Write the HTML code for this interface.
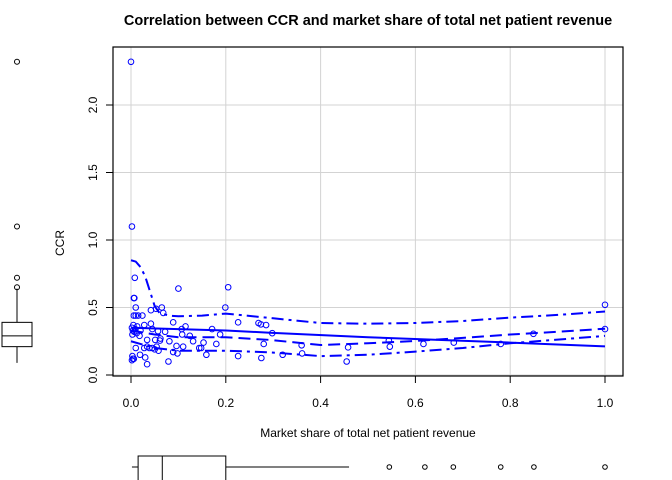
<!DOCTYPE html>
<html><head><meta charset="utf-8"><style>
body{margin:0;background:#fff}
svg{display:block;font-family:"Liberation Sans",Arial,sans-serif}
</style></head><body>
<svg id="chart" width="672" height="480" viewBox="0 0 672 480">
<text x="368" y="25" text-anchor="middle" font-size="14.5" font-weight="bold">Correlation between CCR and market share of total net patient revenue</text>
<g id="grid"></g>
<g id="marks"></g>
<rect x="113" y="47" width="510" height="329" fill="none" stroke="#000" stroke-width="1.2"/>
<g id="axes"></g>
<text x="368" y="437" text-anchor="middle" font-size="12">Market share of total net patient revenue</text>
<text transform="translate(64,243) rotate(-90)" text-anchor="middle" font-size="12">CCR</text>
<g id="boxes"></g>
</svg>
<script>
const xTicks=[0,0.2,0.4,0.6,0.8,1.0];
const xTickLabels=["0.0","0.2","0.4","0.6","0.8","1.0"];
const yTicks=[0,0.5,1.0,1.5,2.0];
const yTickLabels=["0.0","0.5","1.0","1.5","2.0"];
const pointsX=[0,0.002,0.008,0.006,0.007,0.01,0.006,0.01,0.015,0.024,0.1,0.205,0.199,0.042,0.053,0.065,0.068,0.089,0.115,0.107,0.108,0.124,0.171,0.188,0.226,0.269,0.274,0.285,0.298,0.28,0.275,0.226,0.18,0.159,0.153,0.148,0.144,0.131,0.11,0.098,0.089,0.096,0.079,0.081,0.072,0.061,0.051,0.057,0.034,0.028,0.042,0.034,0.039,0.045,0.05,0.054,0.058,0.028,0.03,0.034,0.019,0.01,0.003,0.006,0.002,0.004,0.003,0.007,0.012,0.018,0.002,0.005,0.009,0.004,0.013,0.36,0.32,0.361,0.455,0.458,0.544,0.546,0.617,0.681,0.78,0.849,1.0,1.0,0.02,0.045,0.062];
const pointsY=[2.32,1.10,0.72,0.57,0.57,0.50,0.44,0.44,0.44,0.44,0.64,0.65,0.50,0.48,0.49,0.50,0.46,0.39,0.36,0.34,0.30,0.29,0.34,0.30,0.39,0.385,0.375,0.37,0.31,0.23,0.126,0.14,0.23,0.15,0.24,0.20,0.20,0.25,0.21,0.16,0.17,0.215,0.10,0.25,0.32,0.255,0.26,0.325,0.26,0.37,0.38,0.21,0.20,0.20,0.19,0.21,0.18,0.20,0.13,0.08,0.15,0.20,0.14,0.12,0.11,0.12,0.30,0.32,0.31,0.29,0.35,0.37,0.34,0.33,0.36,0.22,0.15,0.16,0.10,0.205,0.255,0.21,0.23,0.24,0.23,0.305,0.52,0.34,0.33,0.34,0.27];
const fitX=[0,0.2,0.293,0.5,0.8,1.0];
const fitY=[0.35,0.33,0.313,0.28,0.24,0.212];
const upperX=[0,0.01,0.02,0.03,0.04,0.05,0.06,0.08,0.1,0.15,0.2,0.3,0.4,0.5,0.6,0.7,0.8,0.9,1.0];
const upperY=[0.85,0.84,0.80,0.73,0.62,0.51,0.46,0.44,0.435,0.44,0.455,0.42,0.385,0.38,0.385,0.40,0.425,0.445,0.47];
const midX=[0,0.05,0.1,0.2,0.293,0.4,0.5,0.6,0.7,0.8,0.9,1.0];
const midY=[0.33,0.30,0.28,0.28,0.26,0.222,0.235,0.252,0.275,0.30,0.32,0.343];
const lowerX=[0,0.05,0.1,0.2,0.293,0.4,0.5,0.6,0.7,0.8,0.9,1.0];
const lowerY=[0.25,0.20,0.18,0.18,0.168,0.14,0.15,0.173,0.20,0.235,0.262,0.29];
const boxY={lowWhisk:0.09,q1:0.21,med:0.29,q3:0.39,highWhisk:0.64};
const boxYOut=[0.65,0.72,1.10,2.32];
const boxX={lowWhisk:0.002,q1:0.015,med:0.066,q3:0.20,highWhisk:0.46};
const boxXOut=[0.545,0.62,0.68,0.78,0.85,1.0];

const xs=v=>131+474*v, ys=v=>375-135*v;
const NS="http://www.w3.org/2000/svg";
function mk(parent,tag,attrs){const e=document.createElementNS(NS,tag);for(const k in attrs)e.setAttribute(k,attrs[k]);parent.appendChild(e);return e;}
const grid=document.getElementById('grid'),marks=document.getElementById('marks'),axes=document.getElementById('axes'),boxes=document.getElementById('boxes');
xTicks.forEach((t,i)=>{
  let g=mk(grid,'line',{x1:xs(t),x2:xs(t),y1:47,y2:376,stroke:'#d3d3d3','stroke-width':1});
  
  
  let tk=mk(axes,'line',{x1:xs(t),x2:xs(t),y1:376,y2:383,stroke:'#000'});
  
  
  let tl=mk(axes,'text',{x:xs(t),y:407,'text-anchor':'middle','font-size':12});
  tl.textContent=xTickLabels[i];
  
  
});
yTicks.forEach((t,i)=>{
  let g=mk(grid,'line',{x1:113,x2:623,y1:ys(t),y2:ys(t),stroke:'#d3d3d3','stroke-width':1});
  
  
  let tk=mk(axes,'line',{x1:106,x2:113,y1:ys(t),y2:ys(t),stroke:'#000'});
  
  
  let tl=mk(axes,'text',{transform:`translate(97,${ys(t)}) rotate(-90)`,'text-anchor':'middle','font-size':12});
  tl.textContent=yTickLabels[i];
  
  
});
pointsX.forEach((x,i)=>{
  let c=mk(marks,'circle',{cx:xs(x),cy:ys(pointsY[i]),r:2.8,fill:'none',stroke:'#0000ff','stroke-width':1});
  
  
});
function line(X,Y,dash,name){
  let p=mk(marks,'polyline',{points:X.map((x,i)=>xs(x)+','+ys(Y[i])).join(' '),fill:'none',stroke:'#0000ff','stroke-width':2,'stroke-dasharray':dash});
  
  
}
line(fitX,fitY,'none','regression-line');
line(upperX,upperY,'12,5,3,5','upper-band');
line(midX,midY,'12,6','smoother-line');
line(lowerX,lowerY,'12,5,3,5','lower-band');
const bx=17;
[[bx,ys(boxY.lowWhisk),bx,ys(boxY.q1)],[bx,ys(boxY.q3),bx,ys(boxY.highWhisk)],[2,ys(boxY.med),32,ys(boxY.med)]].forEach(a=>{
  let l=mk(boxes,'line',{x1:a[0],y1:a[1],x2:a[2],y2:a[3],stroke:'#000'});
  
  
});
let r1=mk(boxes,'rect',{x:2,y:ys(boxY.q3),width:30,height:ys(boxY.q1)-ys(boxY.q3),fill:'none',stroke:'#000'});


boxYOut.forEach(v=>{
  let c=mk(boxes,'circle',{cx:bx,cy:ys(v),r:2.5,fill:'none',stroke:'#000'});
  
  
});
const by=467;
[[xs(boxX.lowWhisk),by,xs(boxX.q1),by],[xs(boxX.q3),by,xs(boxX.highWhisk),by],[xs(boxX.med),456,xs(boxX.med),480]].forEach(a=>{
  let l=mk(boxes,'line',{x1:a[0],y1:a[1],x2:a[2],y2:a[3],stroke:'#000'});
  
  
});
let r2=mk(boxes,'rect',{x:xs(boxX.q1),y:456,width:xs(boxX.q3)-xs(boxX.q1),height:30,fill:'none',stroke:'#000'});


boxXOut.forEach(v=>{
  let c=mk(boxes,'circle',{cx:xs(v),cy:by,r:2.3,fill:'none',stroke:'#000'});
  
  
});
</script>
</body></html>
